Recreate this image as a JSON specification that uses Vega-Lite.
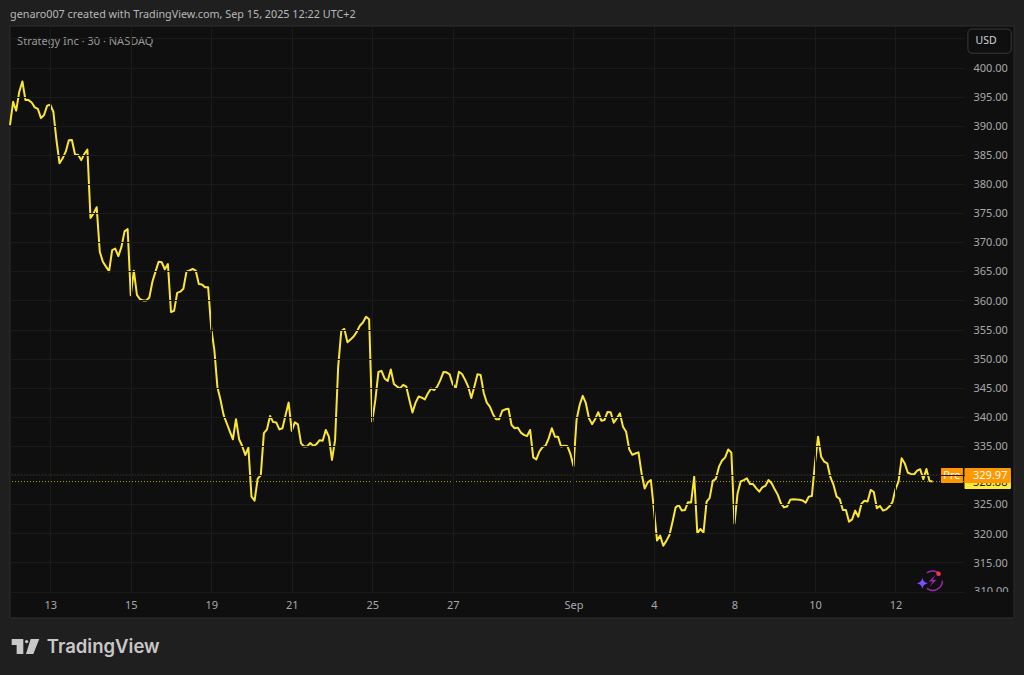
{
"$schema":"https://vega.github.io/schema/vega-lite/v6.json",
"width":954,"height":566,
"autosize":{"type":"none"},
"padding":{"left":10,"top":26,"right":60,"bottom":83},
"background":"#1f1f1f",
"view":{"fill":"#0f0f0f","stroke":null},
"title":{"text":"genaro007 created with TradingView.com, Sep 15, 2025 12:22 UTC+2","anchor":"start","frame":"group","font":"Noto Sans","fontSize":10.8,"fontWeight":"normal","color":"#b8b8b8","offset":6},
"datasets":{
"series":[
{"bar":0,"price":390.1},{"bar":1,"price":394.1},{"bar":2,"price":392.6},{"bar":3,"price":395.85},{"bar":4,"price":397.6},{"bar":5,"price":394.4},{"bar":6,"price":394.4},{"bar":7,"price":394.0},{"bar":8,"price":393.15},{"bar":9,"price":392.9},
{"bar":10,"price":391.3},{"bar":11,"price":391.85},{"bar":12,"price":393.45},{"bar":13,"price":393.6},{"bar":14,"price":392.4},{"bar":15,"price":387.55},{"bar":16,"price":383.55},{"bar":17,"price":384.4},{"bar":18,"price":385.55},{"bar":19,"price":387.5},
{"bar":20,"price":387.55},{"bar":21,"price":385.05},{"bar":22,"price":385.0},{"bar":23,"price":384.1},{"bar":24,"price":385.15},{"bar":25,"price":385.9},{"bar":26,"price":374.15},{"bar":27,"price":374.95},{"bar":28,"price":376.0},{"bar":29,"price":368.35},
{"bar":30,"price":366.65},{"bar":31,"price":365.8},{"bar":32,"price":365.0},{"bar":33,"price":368.65},{"bar":34,"price":368.9},{"bar":35,"price":367.6},{"bar":36,"price":369.2},{"bar":37,"price":371.85},{"bar":38,"price":372.25},{"bar":39,"price":360.9},
{"bar":40,"price":365.1},{"bar":41,"price":360.95},{"bar":42,"price":360.2},{"bar":43,"price":360.0},{"bar":44,"price":360.0},{"bar":45,"price":360.5},{"bar":46,"price":363.2},{"bar":47,"price":364.95},{"bar":48,"price":366.65},{"bar":49,"price":366.55},
{"bar":50,"price":365.35},{"bar":51,"price":366.25},{"bar":52,"price":358.0},{"bar":53,"price":358.2},{"bar":54,"price":361.3},{"bar":55,"price":361.5},{"bar":56,"price":362.0},{"bar":57,"price":364.95},{"bar":58,"price":365.15},{"bar":59,"price":365.4},
{"bar":60,"price":365.1},{"bar":61,"price":362.8},{"bar":62,"price":362.75},{"bar":63,"price":362.25},{"bar":64,"price":362.25},{"bar":65,"price":355.2},{"bar":66,"price":351.5},{"bar":67,"price":345.1},{"bar":68,"price":342.9},{"bar":69,"price":340.3},
{"bar":70,"price":338.9},{"bar":71,"price":337.5},{"bar":72,"price":336.15},{"bar":73,"price":339.6},{"bar":74,"price":336.15},{"bar":75,"price":335.0},{"bar":76,"price":333.45},{"bar":77,"price":334.7},{"bar":78,"price":326.3},{"bar":79,"price":325.6},
{"bar":80,"price":329.4},{"bar":81,"price":329.95},{"bar":82,"price":337.2},{"bar":83,"price":337.85},{"bar":84,"price":340.15},{"bar":85,"price":339.1},{"bar":86,"price":339.05},{"bar":87,"price":337.85},{"bar":88,"price":338.05},{"bar":89,"price":340.3},
{"bar":90,"price":342.45},{"bar":91,"price":337.6},{"bar":92,"price":339.05},{"bar":93,"price":338.7},{"bar":94,"price":335.45},{"bar":95,"price":334.9},{"bar":96,"price":334.95},{"bar":97,"price":335.5},{"bar":98,"price":335.0},{"bar":99,"price":335.3},
{"bar":100,"price":336.0},{"bar":101,"price":335.9},{"bar":102,"price":337.75},{"bar":103,"price":336.6},{"bar":104,"price":332.6},{"bar":105,"price":336.0},{"bar":106,"price":348.6},{"bar":107,"price":354.75},{"bar":108,"price":355.1},{"bar":109,"price":352.8},
{"bar":110,"price":353.3},{"bar":111,"price":353.8},{"bar":112,"price":354.6},{"bar":113,"price":355.65},{"bar":114,"price":356.2},{"bar":115,"price":357.2},{"bar":116,"price":356.75},{"bar":117,"price":339.2},{"bar":118,"price":342.9},{"bar":119,"price":347.7},
{"bar":120,"price":347.9},{"bar":121,"price":346.6},{"bar":122,"price":346.15},{"bar":123,"price":348.15},{"bar":124,"price":345.65},{"bar":125,"price":345.2},{"bar":126,"price":344.9},{"bar":127,"price":345.5},{"bar":128,"price":345.2},{"bar":129,"price":342.9},
{"bar":130,"price":340.75},{"bar":131,"price":342.45},{"bar":132,"price":343.5},{"bar":133,"price":343.3},{"bar":134,"price":343.0},{"bar":135,"price":344.05},{"bar":136,"price":344.85},{"bar":137,"price":344.6},{"bar":138,"price":345.2},{"bar":139,"price":346.3},
{"bar":140,"price":347.7},{"bar":141,"price":347.65},{"bar":142,"price":347.3},{"bar":143,"price":345.6},{"bar":144,"price":345.0},{"bar":145,"price":347.75},{"bar":146,"price":347.35},{"bar":147,"price":346.35},{"bar":148,"price":345.2},{"bar":149,"price":343.25},
{"bar":150,"price":345.2},{"bar":151,"price":347.3},{"bar":152,"price":347.2},{"bar":153,"price":344.15},{"bar":154,"price":342.45},{"bar":155,"price":341.75},{"bar":156,"price":340.45},{"bar":157,"price":339.6},{"bar":158,"price":339.6},{"bar":159,"price":341.05},
{"bar":160,"price":341.3},{"bar":161,"price":341.4},{"bar":162,"price":338.6},{"bar":163,"price":338.05},{"bar":164,"price":338.15},{"bar":165,"price":337.3},{"bar":166,"price":336.9},{"bar":167,"price":336.7},{"bar":168,"price":337.75},{"bar":169,"price":333.05},
{"bar":170,"price":332.7},{"bar":171,"price":334.05},{"bar":172,"price":334.8},{"bar":173,"price":335.05},{"bar":174,"price":336.3},{"bar":175,"price":338.05},{"bar":176,"price":336.6},{"bar":177,"price":336.6},{"bar":178,"price":334.9},{"bar":179,"price":335.05},
{"bar":180,"price":335.0},{"bar":181,"price":333.65},{"bar":182,"price":331.55},{"bar":183,"price":339.5},{"bar":184,"price":342.05},{"bar":185,"price":343.6},{"bar":186,"price":342.35},{"bar":187,"price":339.75},{"bar":188,"price":338.75},{"bar":189,"price":339.6},
{"bar":190,"price":340.8},{"bar":191,"price":339.35},{"bar":192,"price":339.45},{"bar":193,"price":340.85},{"bar":194,"price":340.8},{"bar":195,"price":339.0},{"bar":196,"price":339.75},{"bar":197,"price":340.6},{"bar":198,"price":338.3},{"bar":199,"price":337.45},
{"bar":200,"price":334.45},{"bar":201,"price":333.5},{"bar":202,"price":333.7},{"bar":203,"price":333.9},{"bar":204,"price":330.3},{"bar":205,"price":327.7},{"bar":206,"price":328.75},{"bar":207,"price":329.15},{"bar":208,"price":324.0},{"bar":209,"price":318.75},
{"bar":210,"price":319.6},{"bar":211,"price":317.85},{"bar":212,"price":318.7},{"bar":213,"price":319.7},{"bar":214,"price":322.0},{"bar":215,"price":324.45},{"bar":216,"price":324.85},{"bar":217,"price":323.9},{"bar":218,"price":324.0},{"bar":219,"price":325.35},
{"bar":220,"price":325.3},{"bar":221,"price":329.75},{"bar":222,"price":320.0},{"bar":223,"price":320.75},{"bar":224,"price":320.1},{"bar":225,"price":325.45},{"bar":226,"price":326.1},{"bar":227,"price":329.0},{"bar":228,"price":329.35},{"bar":229,"price":331.45},
{"bar":230,"price":332.5},{"bar":231,"price":333.05},{"bar":232,"price":334.4},{"bar":233,"price":333.85},{"bar":234,"price":321.7},{"bar":235,"price":326.85},{"bar":236,"price":328.9},{"bar":237,"price":329.15},{"bar":238,"price":329.45},{"bar":239,"price":328.45},
{"bar":240,"price":328.45},{"bar":241,"price":327.75},{"bar":242,"price":327.15},{"bar":243,"price":327.9},{"bar":244,"price":328.15},{"bar":245,"price":329.15},{"bar":246,"price":328.6},{"bar":247,"price":327.55},{"bar":248,"price":326.6},{"bar":249,"price":325.15},
{"bar":250,"price":324.45},{"bar":251,"price":324.6},{"bar":252,"price":325.75},{"bar":253,"price":325.85},{"bar":254,"price":325.8},{"bar":255,"price":325.75},{"bar":256,"price":325.65},{"bar":257,"price":325.25},{"bar":258,"price":326.3},{"bar":259,"price":326.4},
{"bar":260,"price":332.0},{"bar":261,"price":336.6},{"bar":262,"price":333.15},{"bar":263,"price":332.3},{"bar":264,"price":332.0},{"bar":265,"price":329.6},{"bar":266,"price":328.3},{"bar":267,"price":326.3},{"bar":268,"price":325.9},{"bar":269,"price":324.0},
{"bar":270,"price":324.0},{"bar":271,"price":322.0},{"bar":272,"price":322.4},{"bar":273,"price":323.9},{"bar":274,"price":322.85},{"bar":275,"price":325.05},{"bar":276,"price":325.6},{"bar":277,"price":325.45},{"bar":278,"price":327.45},{"bar":279,"price":327.1},
{"bar":280,"price":324.3},{"bar":281,"price":324.7},{"bar":282,"price":323.9},{"bar":283,"price":324.1},{"bar":284,"price":324.6},{"bar":285,"price":325.3},{"bar":286,"price":327.55},{"bar":287,"price":328.9},{"bar":288,"price":332.9},{"bar":289,"price":332.0},
{"bar":290,"price":330.4},{"bar":291,"price":330.2},{"bar":292,"price":330.1},{"bar":293,"price":330.75},{"bar":294,"price":331.0},{"bar":295,"price":329.3},{"bar":296,"price":331.05},{"bar":297,"price":329.0},{"bar":298,"price":328.9}
]},
"layer":[
{"data":{"values":[{"bar":308.14,"bar_end":324.3,"price":309.92,"price_end":407.13}]},
 "mark":{"type":"rect","fill":"#0f0f0f"},
 "encoding":{
  "x":{"field":"bar","type":"quantitative","scale":{"domain":[0,308.14],"nice":false,"zero":false},
   "axis":{"title":null,"values":[13,39,65,91,117,143,182,208,234,260,286],"tickCount":30,"grid":true,"gridColor":"#1a1a1a","gridWidth":1,"domain":false,"ticks":false,"labelPadding":7,"labelFont":"Noto Sans","labelFontSize":11,"labelColor":"#a6a8ad","labelOverlap":false,"labelFlush":false,"zindex":1,
   "labelExpr":"['13','15','19','21','25','27','Sep','4','8','10','12'][indexof([13,39,65,91,117,143,182,208,234,260,286],datum.value)]"}},
  "x2":{"field":"bar_end"},
  "y":{"field":"price","type":"quantitative","scale":{"domain":[309.92,407.13],"nice":false,"zero":false},
   "axis":{"title":null,"orient":"right","values":[310,315,320,325,330,335,340,345,350,355,360,365,370,375,380,385,390,395,400,405],"tickCount":30,"grid":true,"gridColor":"#1a1a1a","gridWidth":1,"domain":false,"ticks":false,"labelPadding":9,"labelOffset":0.7,"labelAlign":"left","labelFont":"Noto Sans","labelFontSize":11,"labelColor":"#a6a8ad","labelOverlap":false,"labelFlush":false,"zindex":1,
   "labelExpr":"(datum.value==310||datum.value==330||datum.value==405)?'':format(datum.value,'.2f')"}},
  "y2":{"field":"price_end"}}},
{"data":{"values":[{"bar":311.4,"price":310,"label":"310.00"}]},
 "mark":{"type":"text","align":"left","baseline":"middle","font":"Noto Sans","fontSize":11,"color":"#a6a8ad"},
 "encoding":{"x":{"field":"bar","type":"quantitative"},"y":{"field":"price","type":"quantitative"},"text":{"field":"label"}}},
{"data":{"values":[{"bar":0,"bar_end":324.3,"price":305.46,"price_end":309.92}]},
 "mark":{"type":"rect","fill":"#0f0f0f"},
 "encoding":{"x":{"field":"bar","type":"quantitative"},"x2":{"field":"bar_end"},"y":{"field":"price","type":"quantitative"},"y2":{"field":"price_end"}}},
{"data":{"values":[{"bar":0,"bar_end":324.3,"price":305.46,"price_end":407.13}]},
 "mark":{"type":"rect","fill":null,"stroke":"#2e2e2e","strokeWidth":1},
 "encoding":{"x":{"field":"bar","type":"quantitative"},"x2":{"field":"bar_end"},"y":{"field":"price","type":"quantitative"},"y2":{"field":"price_end"}}},
{"data":{"values":[{"price":329.97}]},
 "mark":{"type":"rule","stroke":"#ff9800","strokeDash":[1,2],"strokeWidth":1,"opacity":0.85},
 "encoding":{"y":{"field":"price","type":"quantitative"}}},
{"data":{"values":[{"price":328.88}]},
 "mark":{"type":"rule","stroke":"#ffeb3b","strokeDash":[1,2],"strokeWidth":1,"opacity":0.65},
 "encoding":{"y":{"field":"price","type":"quantitative"}}},
{"data":{"name":"series"},
 "mark":{"type":"line","stroke":"#fbe636","strokeWidth":2,"strokeJoin":"round","interpolate":"linear"},
 "encoding":{"x":{"field":"bar","type":"quantitative"},"y":{"field":"price","type":"quantitative"}}},
{"data":{"values":[{"bar":308.3,"bar_end":323.3,"price":329.8,"price_end":327.6}]},
 "mark":{"type":"rect","fill":"#ffeb3b","cornerRadius":1},
 "encoding":{"x":{"field":"bar","type":"quantitative"},"x2":{"field":"bar_end"},"y":{"field":"price","type":"quantitative"},"y2":{"field":"price_end"}}},
{"data":{"values":[{"bar":311.05,"price":328.6,"label":"328.88"}]},
 "mark":{"type":"text","align":"left","baseline":"middle","font":"Noto Sans","fontSize":11,"color":"#1f1f1f"},
 "encoding":{"x":{"field":"bar","type":"quantitative"},"y":{"field":"price","type":"quantitative"},"text":{"field":"label"}}},
{"data":{"values":[{"bar":300.7,"bar_end":307.8,"price":331.2,"price_end":328.65},{"bar":308.3,"bar_end":323.3,"price":331.2,"price_end":328.65}]},
 "mark":{"type":"rect","fill":"#ff9800","cornerRadius":1},
 "encoding":{"x":{"field":"bar","type":"quantitative"},"x2":{"field":"bar_end"},"y":{"field":"price","type":"quantitative"},"y2":{"field":"price_end"}}},
{"data":{"values":[{"bar":304.25,"price":329.85,"label":"Pre"}]},
 "mark":{"type":"text","align":"center","baseline":"middle","font":"Noto Sans","fontSize":11,"color":"#ffffff"},
 "encoding":{"x":{"field":"bar","type":"quantitative"},"y":{"field":"price","type":"quantitative"},"text":{"field":"label"}}},
{"data":{"values":[{"bar":311.05,"price":329.85,"label":"329.97"}]},
 "mark":{"type":"text","align":"left","baseline":"middle","font":"Noto Sans","fontSize":11,"color":"#ffffff"},
 "encoding":{"x":{"field":"bar","type":"quantitative"},"y":{"field":"price","type":"quantitative"},"text":{"field":"label"}}},
{"data":{"values":[{"bar":309.4,"bar_end":323.4,"price":406.6,"price_end":402.45}]},
 "mark":{"type":"rect","fill":"#0f0f0f","stroke":"#3a3a3a","strokeWidth":1,"cornerRadius":4},
 "encoding":{"x":{"field":"bar","type":"quantitative"},"x2":{"field":"bar_end"},"y":{"field":"price","type":"quantitative"},"y2":{"field":"price_end"}}},
{"data":{"values":[{"bar":315.3,"price":404.5,"label":"USD"}]},
 "mark":{"type":"text","align":"center","baseline":"middle","font":"Noto Sans","fontSize":10.5,"color":"#d1d4dc"},
 "encoding":{"x":{"field":"bar","type":"quantitative"},"y":{"field":"price","type":"quantitative"},"text":{"field":"label"}}},
{"data":{"values":[{"bar":2.3,"price":404.45,"label":"Strategy Inc · 30 · NASDAQ"}]},
 "mark":{"type":"text","align":"left","baseline":"middle","font":"Noto Sans","fontSize":11,"color":"#9a9a9a"},
 "encoding":{"x":{"field":"bar","type":"quantitative"},"y":{"field":"price","type":"quantitative"},"text":{"field":"label"}}},
{"data":{"values":[{"bar":11.9,"price":300.48,"label":"TradingView"}]},
 "mark":{"type":"text","align":"left","baseline":"middle","font":"Inter","fontSize":18.5,"fontWeight":600,"color":"#c8c8c8"},
 "encoding":{"x":{"field":"bar","type":"quantitative"},"y":{"field":"price","type":"quantitative"},"text":{"field":"label"}}},
{"data":{"values":[{"bar":5,"price":300.57}]},
 "mark":{"type":"point","filled":true,"fill":"#c8c8c8","opacity":1,"stroke":null,"size":762,"shape":"M-1 -.543H-.157V.543H-.64V-.109H-1ZM-.035 -.35a.12 .12 0 1 0 .24 0a.12 .12 0 1 0 -.24 0ZM.374 -.543L1 -.543L.568 .543L.036 .543Z"},
 "encoding":{"x":{"field":"bar","type":"quantitative"},"y":{"field":"price","type":"quantitative"}}},
{"data":{"values":[{"bar":298.03,"price":311.87}]},
 "mark":{"type":"point","filled":false,"stroke":"#9c27b0","strokeWidth":1.5,"opacity":1,"size":376,"shape":"M-.6 -.8A1 1 0 0 1 .8 -.6M1 0A1 1 0 0 1 -.6 .8"},
 "encoding":{"x":{"field":"bar","type":"quantitative"},"y":{"field":"price","type":"quantitative"}}},
{"data":{"values":[{"bar":298.03,"price":311.87}]},
 "mark":{"type":"point","filled":true,"fill":"#9c27b0","stroke":null,"opacity":1,"size":376,"shape":"M.3 -.6L-.4 .1H0L-.3 .6L.4 -.1H0Z"},
 "encoding":{"x":{"field":"bar","type":"quantitative"},"y":{"field":"price","type":"quantitative"}}},
{"data":{"values":[{"bar":294.7,"price":311.42}]},
 "mark":{"type":"point","filled":true,"fill":"#7c4dff","stroke":null,"opacity":1,"size":121,"shape":"M0 -1Q.15 -.15 1 0Q.15 .15 0 1Q-.15 .15 -1 0Q-.15 -.15 0 -1Z"},
 "encoding":{"x":{"field":"bar","type":"quantitative"},"y":{"field":"price","type":"quantitative"}}},
{"data":{"values":[{"bar":299.9,"price":313.07}]},
 "mark":{"type":"point","filled":true,"fill":"#f23645","stroke":null,"opacity":1,"size":20,"shape":"circle"},
 "encoding":{"x":{"field":"bar","type":"quantitative"},"y":{"field":"price","type":"quantitative"}}}
]
}
